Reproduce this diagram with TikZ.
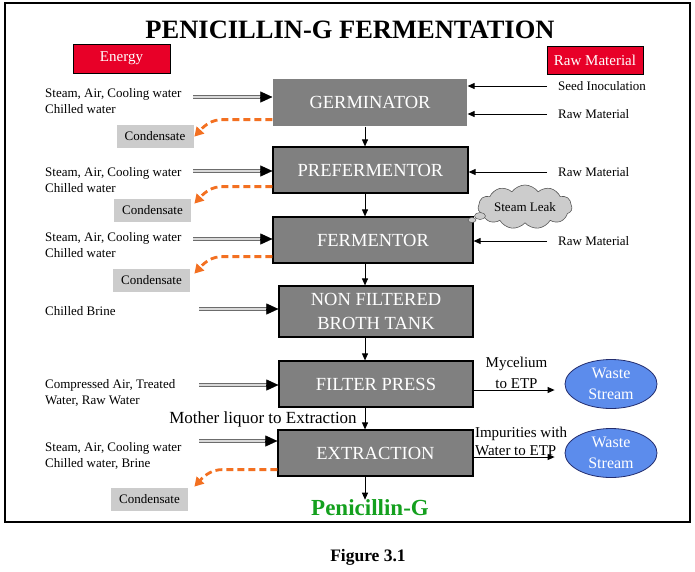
\documentclass[tikz,border=0pt]{standalone}
\usepackage{fontspec}
\setmainfont{Liberation Serif}
\usepackage{tikz}
\usetikzlibrary{shapes.geometric, shapes.symbols, calc}
\usetikzlibrary{arrows.meta}

\definecolor{energyred}{RGB}{232,0,40}
\definecolor{unitgray}{RGB}{128,128,128}
\definecolor{condgray}{RGB}{204,204,204}
\definecolor{steamorange}{RGB}{243,112,33}
\definecolor{wasteblue}{RGB}{92,140,236}
\definecolor{wasteedge}{RGB}{35,45,110}
\definecolor{productgreen}{RGB}{20,160,30}

\tikzset{
    unit/.style={fill=unitgray, draw=black, line width=1.2pt, text=white, align=center,
        inner sep=0pt, font=\fontsize{18.5}{24}\selectfont},
    tag/.style={fill=energyred, draw=black, line width=0.6pt, text=white, inner sep=0pt,
        font=\fontsize{15}{18}\selectfont},
    note/.style={align=left, inner sep=0pt, font=\fontsize{13}{16}\selectfont},
    condensate/.style={fill=condgray, inner sep=0pt, minimum width=77pt, minimum height=23pt,
        font=\fontsize{13}{16}\selectfont},
    waste/.style={ellipse, fill=wasteblue, draw=wasteedge, line width=0.8pt, text=white,
        align=center, inner sep=0pt, minimum width=92pt, minimum height=49pt,
        font=\fontsize{16}{21}\selectfont},
    energyline/.style={draw=gray!85!black, double=gray!30, double distance=1.2pt, line width=1.3pt},
    tiphead/.style={-{Triangle[length=12pt,width=11pt]}, line width=0.4pt},
    flow/.style={-{Triangle[length=7pt,width=6pt]}, line width=0.9pt},
    feed/.style={-{Triangle[length=7pt,width=6pt]}, line width=0.9pt},
    steamout/.style={draw=steamorange, line width=2.8pt, dash pattern=on 7pt off 4pt,
        -{Triangle[length=9pt,width=10pt,fill=steamorange]}}
}

\begin{document}
\begin{tikzpicture}[x=1pt, y=-1pt]
    \useasboundingbox (0,0) rectangle (695,571);

    % Draw the frame and the title
    \draw[line width=1.2pt] (5,3) rectangle (690,522);
    \node[font=\fontsize{26.5}{30}\bfseries\selectfont] (title) at (350,30) {PENICILLIN-G FERMENTATION};
    \node[tag, minimum width=97pt, minimum height=29pt] (energy) at (121.5,58.5) {Energy};
    \node[tag, minimum width=96pt, minimum height=28pt] (raw) at (595,60.5) {Raw Material};

    % Draw the process units
    \node[unit, draw=none, minimum width=194pt, minimum height=47pt] (germ) at (370,102.5) {GERMINATOR};
    \node[unit, minimum width=195pt, minimum height=46pt] (prefer) at (370.5,170) {PREFERMENTOR};
    \node[unit, minimum width=200pt, minimum height=46pt] (ferm) at (373,240) {FERMENTOR};
    \node[unit, minimum width=194pt, minimum height=51pt] (broth) at (376,311.5) {NON FILTERED\\BROTH TANK};
    \node[unit, minimum width=194pt, minimum height=46pt] (filter) at (376,384) {FILTER PRESS};
    \node[unit, minimum width=195pt, minimum height=46pt] (extract) at (375.5,453) {EXTRACTION};
    \node[font=\fontsize{23}{26}\bfseries\selectfont, text=productgreen, inner sep=0pt] (pen) at (370,508) {Penicillin-G};

    % Draw the main line down the units
    \coordinate (axis) at (365,0);
    \foreach \a/\b in {germ/prefer, prefer/ferm, ferm/broth, broth/filter, filter/extract, extract/pen}
        \draw[flow] (\a.south -| axis) -- (\b.north -| axis);

    % Label the utilities on the left
    \node[note, anchor=west] (u1) at (45,101) {Steam, Air, Cooling water\\Chilled water};
    \node[note, anchor=west] (u2) at (45,180.5) {Steam, Air, Cooling water\\Chilled water};
    \node[note, anchor=west] (u3) at (45,245) {Steam, Air, Cooling water\\Chilled water};
    \node[note, anchor=west] (u4) at (45,311) {Chilled Brine};
    \node[note, anchor=west] (u5) at (45,393) {Compressed Air, Treated\\Water, Raw Water};
    \node[note, anchor=west] (u6) at (45,455.5) {Steam, Air, Cooling water\\Chilled water, Brine};
    \coordinate (e1) at (193,97);
    \coordinate (e2) at (193,171);
    \coordinate (e3) at (193,239);
    \coordinate (e4) at (199,309);
    \coordinate (e5) at (199,385);
    \coordinate (e6) at (199,441);

    % Draw the utility arrows
    \foreach \c/\u in {e1/germ, e2/prefer, e3/ferm, e4/broth, e5/filter, e6/extract} {
        \draw[energyline, shorten >=11pt] (\c) -- (\u.west |- \c);
        \draw[tiphead] ($(\u.west |- \c)+(-12,0)$) -- (\u.west |- \c);
    }

    % Draw the condensate boxes and the steam going out
    \node[condensate] (c1) at (155,136) {Condensate};
    \node[condensate] (c2) at (152.5,210.5) {Condensate};
    \node[condensate] (c3) at (151.5,280) {Condensate};
    \node[condensate] (c4) at (149.5,499) {Condensate};
    \foreach \u/\l in {germ/50, prefer/50, ferm/50, extract/55}
        \draw[steamout] ([yshift=7pt]\u.south west) -- ++(-\l,0)
            .. controls +(-10,0) and +(11,-12) .. ++(-28,17);

    % Label the raw materials on the right
    \node[note, anchor=west] (seed) at (558,86) {Seed Inoculation};
    \node[note, anchor=west] (m1) at (558,114) {Raw Material};
    \node[note, anchor=west] (m2) at (558,172) {Raw Material};
    \node[note, anchor=west] (m3) at (558,241) {Raw Material};
    \foreach \m/\u in {seed/germ, m1/germ, m2/prefer, m3/ferm}
        \draw[feed] ([xshift=-11pt]\m.west) -- (\u.east |- \m.west);

    % Draw the steam leak
    \node[cloud, cloud puffs=11, cloud puff arc=110, cloud ignores aspect, fill=condgray,
        draw=gray!70!black, line width=0.6pt, minimum width=94pt, minimum height=44pt,
        inner sep=0pt, font=\fontsize{13}{16}\selectfont] (leak) at (525,207) {Steam Leak};
    \node[ellipse, fill=condgray, draw=gray!70!black, line width=0.5pt, inner sep=0pt,
        minimum width=8pt, minimum height=5pt] (puff1) at (472,220) {};
    \node[ellipse, fill=condgray, draw=gray!70!black, line width=0.5pt, inner sep=0pt,
        minimum width=11pt, minimum height=7pt] (puff2) at (480,216) {};

    % Draw the waste streams
    \node[waste] (w1) at (611,384) {Waste\\Stream};
    \node[waste] (w2) at (611,453) {Waste\\Stream};
    \draw[feed] ([yshift=-6pt]filter.east) -- ([xshift=-10pt,yshift=-6pt]w1.west)
        node[pos=0.53, above=0.5pt, align=center, inner sep=0pt, font=\fontsize{15}{21}\selectfont] {Mycelium\\to ETP};
    \draw[feed] ([yshift=-4pt]extract.east) -- ([xshift=-10pt,yshift=-4pt]w2.west)
        node[pos=0, above right=1pt, align=left, inner sep=0pt, font=\fontsize{15}{18}\selectfont] {Impurities with\\Water to ETP};

    % Label the recycle and the figure
    \node[font=\fontsize{17}{20}\selectfont, inner sep=0pt] (mother) at (263,419) {Mother liquor to Extraction};
    \node[font=\fontsize{17.5}{20}\bfseries\selectfont, inner sep=0pt] (fig) at (368,557) {Figure 3.1};

\end{tikzpicture}
\end{document}
